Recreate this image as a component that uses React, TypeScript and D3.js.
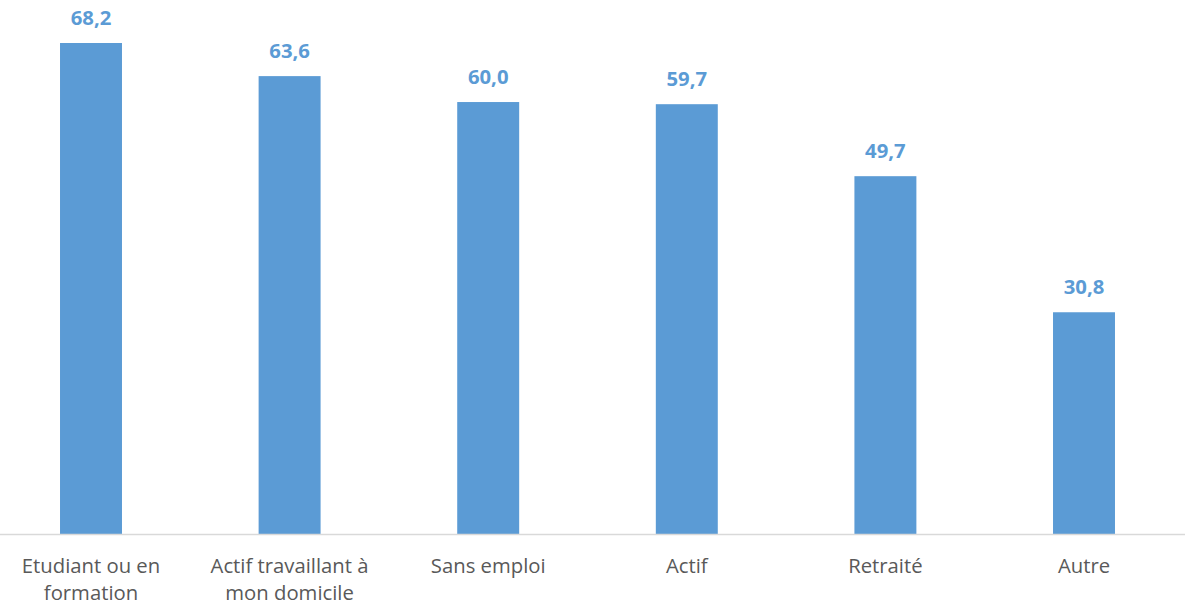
import React from "react";
import * as d3 from "d3";

const categories: string[][] = [
  ["Etudiant ou en", "formation"],
  ["Actif travaillant à", "mon domicile"],
  ["Sans emploi"],
  ["Actif"],
  ["Retraité"],
  ["Autre"],
];
const values: number[] = [68.2, 63.6, 60.0, 59.7, 49.7, 30.8];
const valueLabels: string[] = ["68,2", "63,6", "60,0", "59,7", "49,7", "30,8"];

const W = 1185;
const H = 606;
const BAR = "#5B9BD5";

export default function App() {
  const keys = categories.map((_, i) => String(i));
  const x = d3.scaleBand<string>().domain(keys).range([-8.3, 1183.3]).paddingInner(0.688).paddingOuter(0.344);
  const y = d3.scaleLinear().domain([0, 68.2]).range([534, 43]);
  const font = "'Open Sans', 'Noto Sans', sans-serif";
  return (
    <svg width={W} height={H} style={{ position: "absolute", left: 0, top: 0, background: "#fff" }}>
      {values.map((v, i) => (
        <rect key={i} x={x(keys[i])!} y={y(v)} width={x.bandwidth()} height={y(0) - y(v)} fill={BAR} />
      ))}
      <line x1={0} x2={W} y1={y(0) + 0.5} y2={y(0) + 0.5} stroke="#d9d9d9" strokeWidth={1.3} />
      {values.map((v, i) => (
        <text
          key={"v" + i}
          x={x(keys[i])! + x.bandwidth() / 2}
          y={y(v) - 18.5}
          textAnchor="middle"
          fill={BAR}
          fontFamily={font}
          fontWeight={700}
          fontSize={20.3}
        >
          {valueLabels[i]}
        </text>
      ))}
      {categories.map((lines, i) => (
        <text
          key={"c" + i}
          x={x(keys[i])! + x.bandwidth() / 2}
          textAnchor="middle"
          fill="#595959"
          fontFamily={font}
          fontSize={20.3}
        >
          {lines.map((l, j) => (
            <tspan key={j} x={x(keys[i])! + x.bandwidth() / 2} y={572.5 + j * 27.5}>
              {l}
            </tspan>
          ))}
        </text>
      ))}
    </svg>
  );
}
